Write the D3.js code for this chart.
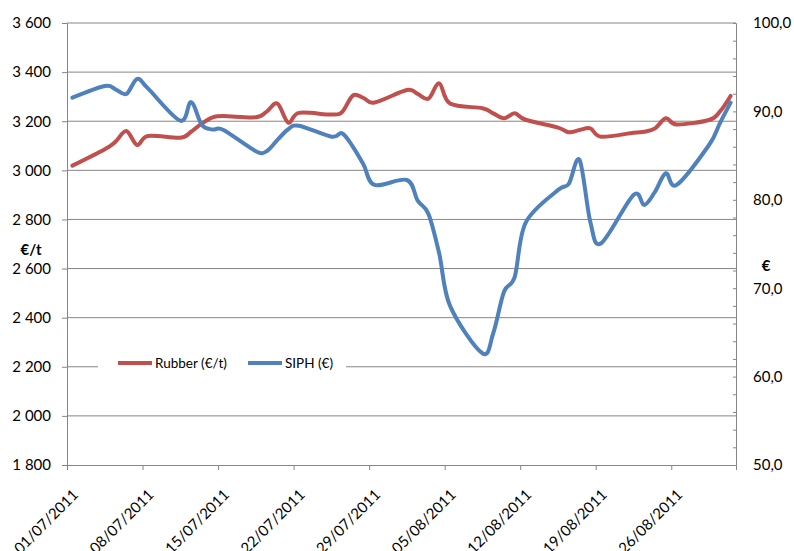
<!DOCTYPE html>
<html>
<head>
<meta charset="utf-8">
<script src="https://cdn.jsdelivr.net/npm/d3@7"></script>
<style>
  body { margin: 0; background: #fff; }
  svg text { font-family: Lato, "Open Sans", sans-serif; fill: #000; }
</style>
</head>
<body>
<div id="chart"></div>
<script>
// trading days
var dates = [
  "01/07/2011", "04/07/2011", "05/07/2011", "06/07/2011", "07/07/2011", "08/07/2011",
  "11/07/2011", "12/07/2011", "13/07/2011", "14/07/2011", "15/07/2011",
  "18/07/2011", "19/07/2011", "20/07/2011", "21/07/2011", "22/07/2011",
  "25/07/2011", "26/07/2011", "27/07/2011", "28/07/2011", "29/07/2011",
  "01/08/2011", "02/08/2011", "03/08/2011", "04/08/2011", "05/08/2011",
  "08/08/2011", "09/08/2011", "10/08/2011", "11/08/2011", "12/08/2011",
  "15/08/2011", "16/08/2011", "17/08/2011", "18/08/2011", "19/08/2011",
  "22/08/2011", "23/08/2011", "24/08/2011", "25/08/2011", "26/08/2011",
  "29/08/2011", "30/08/2011", "31/08/2011"
];

var rubber = [
  3019, 3086, 3117, 3160, 3103, 3140,
  3133, 3157, 3191, 3216, 3221,
  3216, 3239, 3272, 3194, 3234,
  3227, 3238, 3305, 3294, 3276,
  3327, 3311, 3292, 3354, 3272,
  3253, 3232, 3212, 3232, 3206,
  3174, 3155, 3164, 3171, 3137,
  3153, 3157, 3171, 3212, 3187,
  3205, 3239, 3303
];

var siph = [
  91.55, 92.87, 92.5, 91.97, 93.67, 92.6,
  88.95, 91.05, 88.46, 87.95, 87.9,
  85.5, 85.5, 86.77, 87.98, 88.38,
  87.14, 87.52, 86.0, 83.94, 81.68,
  82.24, 79.9, 78.4, 73.9, 68.0,
  62.64, 64.9, 69.6, 71.3, 77.4,
  81.1, 81.8, 84.5, 77.5, 75.08,
  80.55, 79.42, 80.92, 83.0, 81.68,
  86.2, 88.65, 90.99
];

var xTicks = ["01/07/2011", "08/07/2011", "15/07/2011", "22/07/2011", "29/07/2011",
  "05/08/2011", "12/08/2011", "19/08/2011", "26/08/2011"];
var leftTicks = [1800, 2000, 2200, 2400, 2600, 2800, 3000, 3200, 3400, 3600];
var rightTicks = [50, 60, 70, 80, 90, 100];

var width = 794, height = 551;
var plotLeft = 67, plotRight = 736, plotTop = 23, plotBottom = 465;
var gridColor = "#868686";

var parse = d3.timeParse("%d/%m/%Y");
var fr = d3.formatLocale({decimal: ",", thousands: "\u00a0", grouping: [3], currency: ["", " €"]});
var fmtLeft = fr.format(",.0f");
var fmtRight = fr.format(".1f");

var x = d3.scaleTime()
    .domain([parse("01/07/2011"), parse("01/09/2011")])
    .range([plotLeft, plotRight]);
var yL = d3.scaleLinear().domain([1800, 3600]).range([plotBottom, plotTop]);
var yR = d3.scaleLinear().domain([50, 100]).range([plotBottom, plotTop]);

// points sit in the middle of their day
function xMid(s) {
    return x(d3.timeHour.offset(parse(s), 12));
}

var svg = d3.select("#chart").append("svg")
    .attr("width", width)
    .attr("height", height);

// gridlines
svg.append("g")
    .selectAll("line")
    .data(leftTicks.slice(1))
    .enter()
    .append("line")
    .attr("x1", plotLeft).attr("x2", plotRight)
    .attr("y1", function (d) { return yL(d); })
    .attr("y2", function (d) { return yL(d); })
    .style("stroke", gridColor)
    .style("stroke-width", 1);

// left axis
var gl = svg.append("g")
    .attr("transform", "translate(" + plotLeft + ",0)")
    .call(d3.axisLeft(yL).tickValues(leftTicks).tickSize(5).tickPadding(11).tickFormat(fmtLeft));
gl.selectAll("text").style("font-size", "15px");

// right axis, minor ticks inside
var gr = svg.append("g")
    .attr("transform", "translate(" + plotRight + ",0)")
    .call(d3.axisRight(yR).tickValues(d3.range(50, 100.1, 2)).tickSize(-3).tickPadding(17)
        .tickFormat(function (d) { return rightTicks.indexOf(d) >= 0 ? fmtRight(d) : ""; }));
gr.selectAll("text").style("font-size", "15px");

// bottom axis
var gb = svg.append("g")
    .attr("transform", "translate(0," + plotBottom + ")")
    .call(d3.axisBottom(x).tickValues(xTicks.map(parse)).tickSize(5)
        .tickFormat(d3.timeFormat("%d/%m/%Y")));
gb.selectAll("text")
    .style("font-size", "15px")
    .style("text-anchor", "end")
    .attr("dy", "0.35em")
    .attr("y", 0)
    .attr("transform", "translate(8,27) rotate(-45)");

[gl, gr, gb].forEach(function (g) {
    g.selectAll("path, line").style("stroke", gridColor);
});

// axis titles
svg.append("text")
    .attr("x", 31).attr("y", 255)
    .attr("text-anchor", "middle")
    .style("font-size", "15px")
    .style("font-weight", "bold")
    .text("€/t");
svg.append("text")
    .attr("x", 766).attr("y", 271)
    .attr("text-anchor", "middle")
    .style("font-size", "15px")
    .style("font-weight", "bold")
    .text("€");

// series
var lineRubber = d3.line()
    .x(function (d, i) { return xMid(dates[i]); })
    .y(function (d) { return yL(d); })
    .curve(d3.curveCardinal.tension(0));
var lineSiph = d3.line()
    .x(function (d, i) { return xMid(dates[i]); })
    .y(function (d) { return yR(d); })
    .curve(d3.curveCardinal.tension(0));

svg.append("path")
    .datum(rubber)
    .attr("d", lineRubber)
    .style("fill", "none")
    .style("stroke", "#C0504D")
    .style("stroke-width", 4)
    .style("stroke-linejoin", "round")
    .style("stroke-linecap", "round");

svg.append("path")
    .datum(siph)
    .attr("d", lineSiph)
    .style("fill", "none")
    .style("stroke", "#4F81BD")
    .style("stroke-width", 4)
    .style("stroke-linejoin", "round")
    .style("stroke-linecap", "round");

// legend
var legend = svg.append("g");
legend.append("rect")
    .attr("x", 98).attr("y", 353)
    .attr("width", 248).attr("height", 22)
    .style("fill", "#fff");
var items = [
    {name: "Rubber (€/t)", color: "#C0504D", x: 118},
    {name: "SIPH (€)", color: "#4F81BD", x: 248}
];
var li = legend.selectAll(".item")
    .data(items)
    .enter()
    .append("g");
li.append("line")
    .attr("x1", function (d) { return d.x; })
    .attr("x2", function (d) { return d.x + 34; })
    .attr("y1", 363).attr("y2", 363)
    .style("stroke", function (d) { return d.color; })
    .style("stroke-width", 4);
li.append("text")
    .attr("x", function (d) { return d.x + 37; })
    .attr("y", 363)
    .attr("dy", "0.35em")
    .style("font-size", "13.5px")
    .text(function (d) { return d.name; });
</script>
</body>
</html>
